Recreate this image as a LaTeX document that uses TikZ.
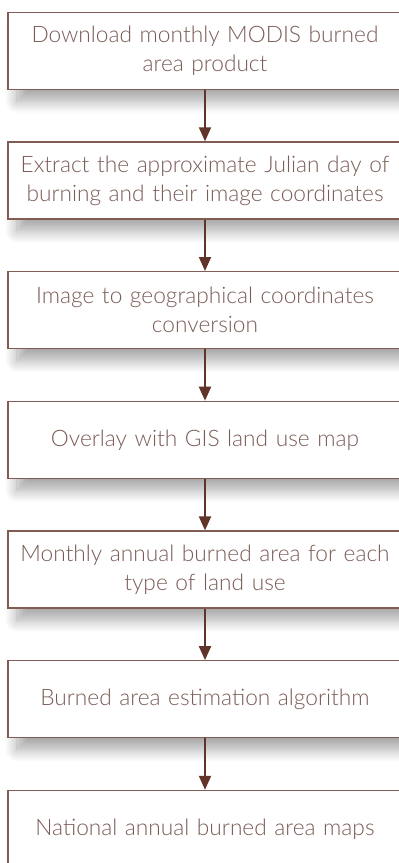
\documentclass[tikz,border=0pt]{standalone}
\usepackage{fontspec}
\setmainfont{Lato}[UprightFont=* Light]
\usetikzlibrary{shadows.blur}
\usetikzlibrary{arrows.meta}
\usetikzlibrary{positioning}
\definecolor{boxline}{RGB}{128,92,82}
\definecolor{boxtext}{RGB}{122,92,86}
\definecolor{flowline}{RGB}{96,52,40}
\tikzset{stepbox/.style={rectangle, draw=boxline, line width=1.3pt, fill=white, text=boxtext, minimum width=394pt, minimum height=77pt, inner sep=0pt, text width=394pt, align=center, font=\fontsize{22.7}{29}\selectfont, blur shadow={shadow xshift=9pt, shadow yshift=-12pt, shadow blur radius=12pt, shadow opacity=35, shadow blur steps=14}}, flow/.style={draw=flowline, line width=2pt, -{Triangle[width=12pt,length=14pt]}}}

\begin{document}
\begin{tikzpicture}[x=1pt,y=1pt]
\useasboundingbox (0,0) rectangle (399,-863);
\foreach \i/\txt in {1/{Download monthly MODIS burned\\area product}, 2/{Extract the approximate Julian day of\\burning and their image coordinates}, 3/{Image to geographical coordinates\\conversion}, 4/{Overlay with GIS land use map}, 5/{Monthly annual burned area for each\\type of land use}, 6/{Burned area estimation algorithm}, 7/{National annual burned area maps}} {
\node (B\i) at (205,{-50.75-129.7*(\i-1)}) [stepbox] {\txt};
}
\foreach \i [evaluate=\i as \j using int(\i+1)] in {1,...,6} {
\draw[flow] (B\i.south) -- (B\j.north);
}
\end{tikzpicture}
\end{document}
